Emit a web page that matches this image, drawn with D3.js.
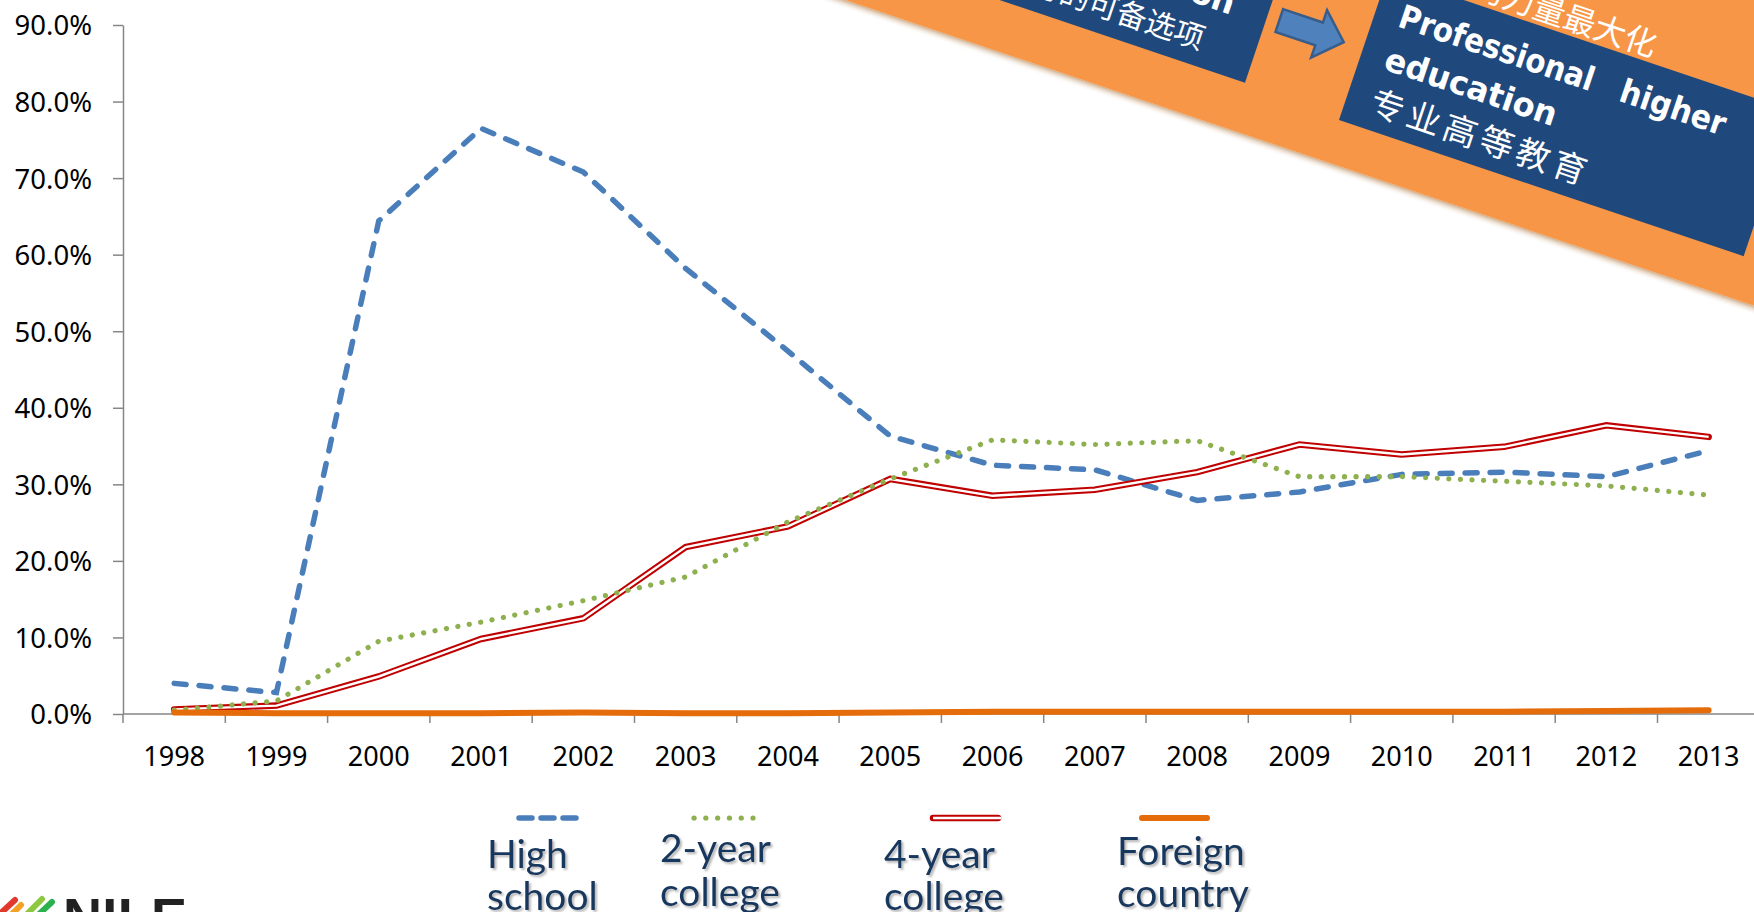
<!DOCTYPE html>
<html>
<head>
<meta charset="utf-8">
<script src="https://cdn.jsdelivr.net/npm/d3@7"></script>
<style>
  body { margin: 0; background: #fff; }
  svg { display: block; }
</style>
</head>
<body>
<svg id="chart" width="1754" height="912"></svg>
<script>
// data (percent of graduates)
var years = ["1998", "1999", "2000", "2001", "2002", "2003", "2004", "2005",
             "2006", "2007", "2008", "2009", "2010", "2011", "2012", "2013"];
var highSchool = [4.0, 2.8, 64.4, 76.5, 70.8, 58.2, 47.4, 36.3, 32.5, 31.9, 27.9, 29.0, 31.3, 31.6, 31.0, 34.4];
var twoYear    = [0.5, 1.7, 9.5, 12.0, 14.8, 17.9, 25.1, 30.7, 35.8, 35.2, 35.7, 31.0, 31.0, 30.4, 29.8, 28.6];
var fourYear   = [0.6, 1.1, 4.9, 9.8, 12.5, 21.8, 24.5, 30.7, 28.5, 29.3, 31.6, 35.2, 33.9, 34.9, 37.7, 36.2];
var foreign    = [0.2, 0.1, 0.1, 0.1, 0.2, 0.1, 0.1, 0.2, 0.3, 0.3, 0.3, 0.3, 0.3, 0.3, 0.4, 0.5];
var yTicks = [0, 0.1, 0.2, 0.3, 0.4, 0.5, 0.6, 0.7, 0.8, 0.9];
var legendLabels = [["High", "school"], ["2-year", "college"], ["4-year", "college"], ["Foreign", "country"]];

var svg = d3.select("#chart");
var axisColor = "#868686";

// scales
var x = d3.scaleBand().domain(years).range([123, 123 + 16 * 102.3]).padding(0);
var y = d3.scaleLinear().domain([0, 0.9]).range([714, 25]);
var cx = function (i) { return x(years[i]) + x.bandwidth() / 2; };

// y axis
var yAxis = svg.append("g")
    .attr("transform", "translate(123,0)")
    .call(d3.axisLeft(y).tickValues(yTicks).tickFormat(d3.format(".1%"))
        .tickSize(10).tickSizeOuter(0).tickPadding(21));
yAxis.select(".domain").attr("stroke", axisColor).attr("stroke-width", 1.5);
yAxis.selectAll(".tick line").attr("stroke", axisColor).attr("stroke-width", 1.5);
yAxis.selectAll("text")
    .attr("font-family", "Noto Sans").attr("font-size", 27.5).attr("fill", "#000")
    .attr("dy", "0.36em");

// x axis: labels in band centres, ticks on band borders
var xAxis = svg.append("g")
    .attr("transform", "translate(0,714)")
    .call(d3.axisBottom(x).tickSize(0).tickPadding(0));
xAxis.select(".domain").remove();
xAxis.selectAll("text")
    .attr("font-family", "Noto Sans").attr("font-size", 27).attr("fill", "#000")
    .attr("y", 52).attr("dy", 0);

svg.append("line")
    .attr("x1", x.range()[0]).attr("x2", x.range()[1])
    .attr("y1", y(0)).attr("y2", y(0))
    .attr("stroke", axisColor).attr("stroke-width", 1.5);
svg.append("g").selectAll("line")
    .data(d3.range(years.length + 1))
    .enter().append("line")
    .attr("x1", function (d) { return x.range()[0] + d * x.step(); })
    .attr("x2", function (d) { return x.range()[0] + d * x.step(); })
    .attr("y1", y(0)).attr("y2", y(0) + 9)
    .attr("stroke", axisColor).attr("stroke-width", 1.5);

// lines
var line = d3.line()
    .x(function (d, i) { return cx(i); })
    .y(function (d) { return y(d / 100); });

var lines = svg.append("g").attr("fill", "none");

lines.append("path").attr("d", line(highSchool))
    .attr("stroke", "#4a7ebb").attr("stroke-width", 5.5)
    .attr("stroke-dasharray", "12,13").attr("stroke-linecap", "round");

lines.append("path").attr("d", line(fourYear))
    .attr("stroke", "#c00000").attr("stroke-width", 6.5)
    .attr("stroke-linecap", "round").attr("stroke-linejoin", "miter");
lines.append("path").attr("d", line(fourYear))
    .attr("stroke", "#fff").attr("stroke-width", 2.4)
    .attr("stroke-linecap", "butt");

lines.append("path").attr("d", line(twoYear))
    .attr("stroke", "#8eb04f").attr("stroke-width", 5.2)
    .attr("stroke-dasharray", "0.1,11.5").attr("stroke-linecap", "round");

lines.append("path").attr("d", line(foreign))
    .attr("stroke", "#e46c0a").attr("stroke-width", 6)
    .attr("stroke-linecap", "round");

// legend
var defs = svg.append("defs");
var sh = defs.append("filter").attr("id", "txtShadow")
    .attr("x", "-10%").attr("y", "-20%").attr("width", "130%").attr("height", "150%");
sh.append("feDropShadow").attr("dx", 2).attr("dy", 2).attr("stdDeviation", 1.2)
    .attr("flood-color", "#777").attr("flood-opacity", 0.55);

var legend = svg.append("g");
legend.append("line").attr("x1", 519).attr("x2", 577).attr("y1", 818).attr("y2", 818)
    .attr("stroke", "#4a7ebb").attr("stroke-width", 5.5)
    .attr("stroke-dasharray", "13,9").attr("stroke-linecap", "round");
legend.append("line").attr("x1", 694).attr("x2", 753).attr("y1", 818).attr("y2", 818)
    .attr("stroke", "#8eb04f").attr("stroke-width", 5.2)
    .attr("stroke-dasharray", "0.1,11.7").attr("stroke-linecap", "round");
legend.append("line").attr("x1", 933).attr("x2", 998).attr("y1", 818).attr("y2", 818)
    .attr("stroke", "#c00000").attr("stroke-width", 6.5).attr("stroke-linecap", "round");
legend.append("line").attr("x1", 933).attr("x2", 1001).attr("y1", 818).attr("y2", 818)
    .attr("stroke", "#fff").attr("stroke-width", 2.4);
legend.append("line").attr("x1", 1142).attr("x2", 1207).attr("y1", 818).attr("y2", 818)
    .attr("stroke", "#e46c0a").attr("stroke-width", 6).attr("stroke-linecap", "round");

var legendX = [487, 660, 884, 1117];
var legendY = [[868, 910], [862, 906], [868, 910], [865, 907]];
legendLabels.forEach(function (lab, i) {
    lab.forEach(function (t, j) {
        legend.append("text")
            .attr("x", legendX[i]).attr("y", legendY[i][j])
            .attr("font-family", "Lato").attr("font-size", 39)
            .attr("fill", "#17375e").attr("filter", "url(#txtShadow)")
            .text(t);
    });
});

// rotated banner in the top right corner
var ang = 18.6;
var band = svg.append("g").attr("transform", "translate(866,7) rotate(" + ang + ")");
var grad = defs.append("linearGradient").attr("id", "edge")
    .attr("x1", 0).attr("x2", 0).attr("y1", 0).attr("y2", 1);
grad.append("stop").attr("offset", "0%").attr("stop-color", "#c9a27a").attr("stop-opacity", 0.9);
grad.append("stop").attr("offset", "100%").attr("stop-color", "#ffffff").attr("stop-opacity", 0);

band.append("rect").attr("x", -300).attr("y", 0).attr("width", 1500).attr("height", 9)
    .attr("fill", "url(#edge)");
band.append("rect").attr("x", -300).attr("y", -700).attr("width", 1500).attr("height", 700)
    .attr("fill", "#f79646");

// left box (mostly off canvas)
band.append("rect").attr("x", -400).attr("y", -600).attr("width", 783.3).attr("height", 550.8)
    .attr("fill", "#1f497d");
band.append("text").attr("x", 348).attr("y", -109).attr("text-anchor", "end")
    .attr("font-family", "DejaVu Sans").attr("font-weight", "bold").attr("font-size", 32)
    .attr("fill", "#fff").text("Vocational education");
band.append("text").attr("x", 330).attr("y", -66).attr("text-anchor", "end")
    .attr("font-family", "Noto Sans CJK SC").attr("font-size", 30)
    .attr("fill", "#fff").text("职业教育的可备选项");

// arrow
band.append("path")
    .attr("d", "M396,-131 L438,-131 L438,-144 L464,-119 L438,-94 L438,-107 L396,-107 Z")
    .attr("fill", "#4f81bd").attr("stroke", "#385d8a").attr("stroke-width", 2.5);

// right box
band.append("text").attr("x", 761).attr("y", -203).attr("text-anchor", "end")
    .attr("font-family", "Noto Sans CJK SC").attr("font-size", 32)
    .attr("fill", "#fff").text("发挥职业教育的力量最大化");
band.append("rect").attr("x", 484.3).attr("y", -197.3).attr("width", 427).attr("height", 153.5)
    .attr("fill", "#1f497d");
band.append("text").attr("x", 509).attr("y", -151)
    .attr("font-family", "DejaVu Sans").attr("font-weight", "bold").attr("font-size", 33)
    .attr("fill", "#fff").attr("textLength", 204).attr("lengthAdjust", "spacingAndGlyphs")
    .text("Professional");
band.append("text").attr("x", 742).attr("y", -151)
    .attr("font-family", "DejaVu Sans").attr("font-weight", "bold").attr("font-size", 33)
    .attr("fill", "#fff").attr("textLength", 110).attr("lengthAdjust", "spacingAndGlyphs")
    .text("higher");
band.append("text").attr("x", 509).attr("y", -106)
    .attr("font-family", "DejaVu Sans").attr("font-weight", "bold").attr("font-size", 33)
    .attr("fill", "#fff").attr("textLength", 180).attr("lengthAdjust", "spacingAndGlyphs")
    .text("education");
band.append("text").attr("x", 509).attr("y", -60)
    .attr("font-family", "Noto Sans CJK SC").attr("font-size", 34)
    .attr("fill", "#fff").attr("textLength", 226).attr("lengthAdjust", "spacing")
    .text("专业高等教育");

// logo, bottom left (cut by the frame)
var logo = svg.append("g").attr("stroke-linecap", "round").attr("stroke-width", 6);
logo.append("line").attr("x1", 2).attr("y1", 912).attr("x2", 15).attr("y2", 900).attr("stroke", "#e2392f");
logo.append("line").attr("x1", 10).attr("y1", 916).attr("x2", 21).attr("y2", 905).attr("stroke", "#f4a024");
logo.append("line").attr("x1", 27).attr("y1", 914).attr("x2", 42).attr("y2", 899).attr("stroke", "#8dc63f");
logo.append("line").attr("x1", 37).attr("y1", 916).attr("x2", 52).attr("y2", 902).attr("stroke", "#2bb24c");
svg.append("text").attr("x", 63).attr("y", 936)
    .attr("font-family", "Liberation Sans").attr("font-weight", "bold").attr("font-size", 54)
    .attr("fill", "#222").attr("textLength", 124).text("NILE");
</script>
</body>
</html>
